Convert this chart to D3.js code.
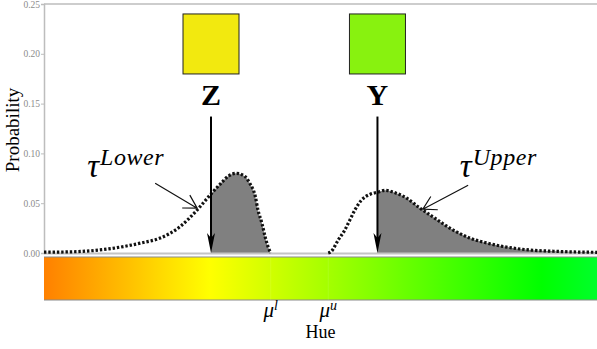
<!DOCTYPE html>
<html lang="en">
<head>
<meta charset="UTF-8">
<title>Hue probability</title>
<script src="https://cdn.jsdelivr.net/npm/d3@7"></script>
<style>
  body { margin: 0; background: #fff; }
  svg { display: block; }
  .y-axis .tick text { fill: #8c8c8c; font-size: 9.5px; font-family: 'Liberation Serif', serif; }
  .y-axis .tick line { stroke: #bdbdbd; }
  .y-axis .domain { stroke: #bdbdbd; stroke-width: 1.5; }
</style>
</head>
<body>
<div id="app"></div>
<script>
  // x is hue in degrees, y is probability
  const lowerHue  = [30, 35, 41.5, 47.5, 51, 54.5, 57.5, 60, 62, 63.3, 64.8, 66.3, 67.2, 68.2, 68.7, 69.4, 70, 70.6, 71];
  const lowerProb = [0.0008, 0.0012, 0.004, 0.010, 0.015, 0.026, 0.042, 0.058, 0.070, 0.077, 0.080, 0.077, 0.070, 0.057, 0.043, 0.030, 0.016, 0.005, 0];
  const upperHue  = [81.4, 81.9, 83.2, 84.4, 85.3, 86.2, 87.4, 89, 90.3, 91.7, 93.2, 95.6, 98, 100.4, 104, 107, 110.1, 116.1, 123.3, 130];
  const upperProb = [0, 0.0013, 0.013, 0.023, 0.033, 0.043, 0.053, 0.059, 0.061, 0.063, 0.061, 0.055, 0.045, 0.036, 0.023, 0.015, 0.010, 0.004, 0.0015, 0.0007];
  const yTicks = [0, 0.05, 0.10, 0.15, 0.20, 0.25];
  const hueDomain = [30, 130];

  const sampleNames = ['Z', 'Y'];
  const sampleHue = [60.2, 90.3];
  const sampleColors = ['#f2e90f', '#88f20f'];

  const muNames = ['l', 'u'];
  const muHue = [71, 81.4];

  const tauNames = ['Lower', 'Upper'];
  const tauTextAt = [[37.8, 0.076], [105.2, 0.076]];
  const tauArrowFrom = [[50.1, 0.070], [106.7, 0.068]];
  const tauArrowTo = [[57.7, 0.045], [98.5, 0.044]];

  const w = 597, h = 349;
  const padLeft = 44, padTop = 4, base = 253;
  const serif = "'Liberation Serif', 'DejaVu Serif', serif";

  const x = d3.scaleLinear().domain(hueDomain).range([padLeft, w]);
  const y = d3.scaleLinear().domain([0, 0.25]).range([base, padTop]);

  const svg = d3.select('#app').append('svg')
    .attr('width', w)
    .attr('height', h);
  const defs = svg.append('defs');

  // hue colour bar
  const grad = defs.append('linearGradient')
    .attr('id', 'hueGrad')
    .attr('gradientUnits', 'userSpaceOnUse')
    .attr('x1', x(hueDomain[0])).attr('x2', x(hueDomain[1]))
    .attr('y1', 0).attr('y2', 0);
  d3.range(hueDomain[0], hueDomain[1] + 1, 5).forEach(hv => {
    grad.append('stop')
      .attr('offset', (hv - hueDomain[0]) / (hueDomain[1] - hueDomain[0]))
      .attr('stop-color', d3.hsl(hv, 1, 0.5).formatHex());
  });
  const barTop = base + 4, barH = 43;
  svg.append('rect')
    .attr('x', x(hueDomain[0])).attr('y', barTop)
    .attr('width', x(hueDomain[1]) - x(hueDomain[0])).attr('height', barH)
    .attr('fill', 'url(#hueGrad)');
  [barTop, barTop + barH].forEach(yy => {
    svg.append('line')
      .attr('x1', x(hueDomain[0])).attr('x2', x(hueDomain[1]))
      .attr('y1', yy).attr('y2', yy)
      .attr('stroke', '#8a8a8a').attr('stroke-width', 1);
  });
  svg.selectAll('.mu-tick')
    .data(muHue)
    .enter().append('line')
    .attr('class', 'mu-tick')
    .attr('x1', d => x(d)).attr('x2', d => x(d))
    .attr('y1', barTop).attr('y2', barTop + barH)
    .attr('stroke', '#fff').attr('stroke-opacity', 0.1);

  // frame
  svg.append('line')
    .attr('x1', padLeft).attr('x2', w).attr('y1', padTop).attr('y2', padTop)
    .attr('stroke', '#bdbdbd').attr('stroke-width', 1.5);

  const yAxis = d3.axisLeft(y)
    .tickValues(yTicks)
    .tickSize(3)
    .tickPadding(1)
    .tickFormat(d3.format('.2f'));
  svg.append('g')
    .attr('class', 'y-axis')
    .attr('transform', `translate(${padLeft},0)`)
    .call(yAxis);

  svg.append('text')
    .attr('transform', `translate(19,130) rotate(-90)`)
    .attr('text-anchor', 'middle')
    .style('font-family', serif)
    .style('font-size', '19px')
    .text('Probability');

  // filled parts of the densities
  const lowerData = lowerHue.map((d, i) => [d, lowerProb[i]]);
  const upperData = upperHue.map((d, i) => [d, upperProb[i]]);
  const fillRanges = [[sampleHue[0], muHue[0]], [sampleHue[1], hueDomain[1]]];

  const area = d3.area()
    .x(d => x(d[0])).y0(y(0)).y1(d => y(d[1]))
    .curve(d3.curveMonotoneX);
  const line = d3.line()
    .x(d => x(d[0])).y(d => y(d[1]))
    .curve(d3.curveMonotoneX);

  [lowerData, upperData].forEach((data, i) => {
    defs.append('clipPath').attr('id', 'clip' + i)
      .append('rect')
      .attr('x', x(fillRanges[i][0])).attr('y', 0)
      .attr('width', x(fillRanges[i][1]) - x(fillRanges[i][0]))
      .attr('height', base + 1);
    svg.append('path')
      .datum(data)
      .attr('d', area)
      .attr('clip-path', `url(#clip${i})`)
      .attr('fill', '#808080');
  });

  // baseline
  svg.append('line')
    .attr('x1', padLeft).attr('x2', w).attr('y1', base + 0.5).attr('y2', base + 0.5)
    .attr('stroke', '#c4c4c4').attr('stroke-width', 2);

  [lowerData, upperData].forEach(data => {
    svg.append('path')
      .datum(data)
      .attr('d', line)
      .attr('fill', 'none')
      .attr('stroke', '#111')
      .attr('stroke-width', 3.2)
      .attr('stroke-dasharray', '2.4 1.9');
  });

  // sample swatches with arrows down to the axis
  const samples = svg.selectAll('.sample')
    .data(sampleHue)
    .enter().append('g')
    .attr('class', 'sample');
  samples.append('rect')
    .attr('x', d => x(d) - 28).attr('y', y(0.24))
    .attr('width', 56).attr('height', 60)
    .attr('fill', (d, i) => sampleColors[i])
    .attr('stroke', '#222').attr('stroke-width', 1);
  samples.append('text')
    .attr('x', d => x(d)).attr('y', y(0.149))
    .attr('text-anchor', 'middle')
    .style('font-family', serif)
    .style('font-size', '30px').style('font-weight', 'bold')
    .text((d, i) => sampleNames[i]);
  samples.append('line')
    .attr('x1', d => x(d)).attr('x2', d => x(d))
    .attr('y1', y(0.137)).attr('y2', y(0) - 15)
    .attr('stroke', '#000').attr('stroke-width', 2);
  samples.append('path')
    .attr('d', d => {
      const cx = x(d), ty = y(0);
      return `M${cx},${ty}L${cx - 4},${ty - 20}L${cx},${ty - 15}L${cx + 4},${ty - 20}Z`;
    })
    .attr('fill', '#000');

  // tau labels and arrows
  tauNames.forEach((name, i) => {
    const t = svg.append('text')
      .attr('x', x(tauTextAt[i][0])).attr('y', y(tauTextAt[i][1]))
      .style('font-family', serif)
      .style('font-style', 'italic');
    t.append('tspan').style('font-size', '33px').text('τ');
    t.append('tspan').style('font-size', '24px').attr('dy', -12).attr('dx', 1)
      .style('letter-spacing', '0.6px').text(name);

    const x0 = x(tauArrowFrom[i][0]), y0 = y(tauArrowFrom[i][1]);
    const x1 = x(tauArrowTo[i][0]), y1 = y(tauArrowTo[i][1]);
    const ang = Math.atan2(y0 - y1, x0 - x1);
    const len = 15, spread = Math.PI / 6;
    svg.append('path')
      .attr('d', `M${x0},${y0}L${x1},${y1}` +
        `M${x1 + len * Math.cos(ang - spread)},${y1 + len * Math.sin(ang - spread)}L${x1},${y1}` +
        `L${x1 + len * Math.cos(ang + spread)},${y1 + len * Math.sin(ang + spread)}`)
      .attr('fill', 'none')
      .attr('stroke', '#111')
      .attr('stroke-width', 1.2);
  });

  // mu labels under the bar
  muHue.forEach((d, i) => {
    const t = svg.append('text')
      .attr('x', x(d)).attr('y', barTop + barH + 17)
      .attr('text-anchor', 'middle')
      .style('font-family', serif)
      .style('font-style', 'italic');
    t.append('tspan').style('font-size', '21px').text('μ');
    t.append('tspan').style('font-size', '14px').attr('dy', -7).text(muNames[i]);
  });

  svg.append('text')
    .attr('x', (x(hueDomain[0]) + x(hueDomain[1])) / 2)
    .attr('y', 338)
    .attr('text-anchor', 'middle')
    .style('font-family', serif)
    .style('font-size', '18px')
    .text('Hue');
</script>
</body>
</html>
